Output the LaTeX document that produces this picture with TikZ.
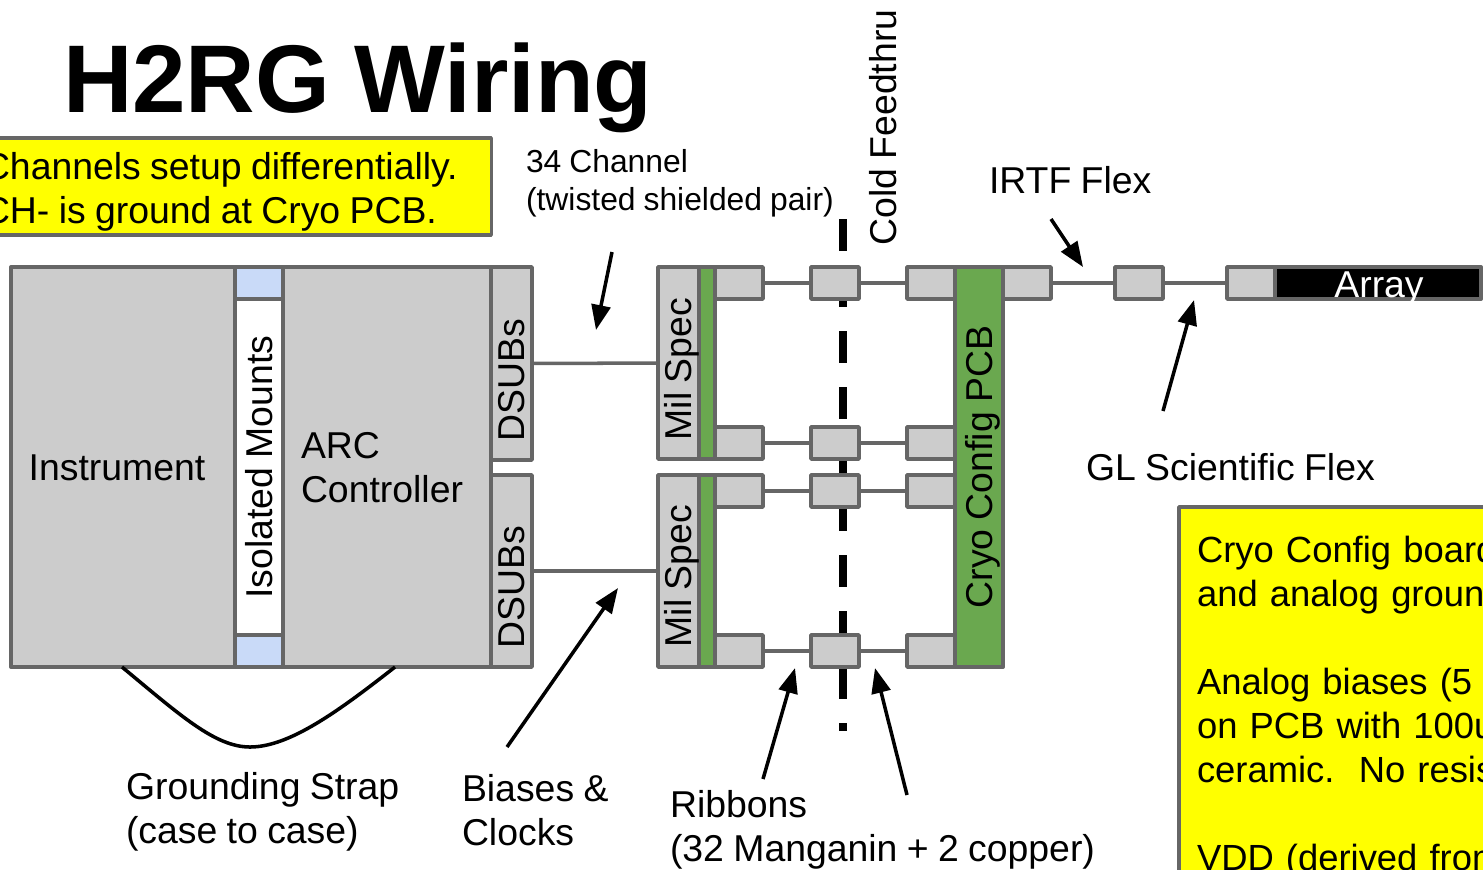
\documentclass[tikz,border=0pt]{standalone}
\usepackage{fontspec}
\setmainfont[WordSpace=0.9]{Liberation Sans}
\usetikzlibrary{arrows.meta}
\tikzset{>={Triangle[length=2.5mm,width=1.9mm]}}
\definecolor{wire_grey}{HTML}{666666}
\definecolor{box_grey}{HTML}{CCCCCC}
\definecolor{pcb_green}{HTML}{6AA84F}
\definecolor{mount_blue}{HTML}{C9DAF8}
\definecolor{note_yellow}{HTML}{FFFF00}
\begin{document}
\begin{tikzpicture}
    [
        x=0.01cm, y=-0.01cm,
        every node/.style={font=\fontsize{10.63}{12.5}\selectfont, inner sep=0pt, outer sep=0pt},
        grey_node/.style={rectangle, draw=wire_grey, fill=box_grey, line width=1pt, line join=round},
        green_node/.style={grey_node, fill=pcb_green},
        plug_node/.style={grey_node, minimum width=0.48cm, minimum height=0.32cm},
        mount_node/.style={grey_node, fill=mount_blue, minimum width=0.48cm, minimum height=0.32cm},
        note_node/.style={grey_node, fill=note_yellow, anchor=north west, align=left, inner xsep=0.18cm},
        text_node/.style={anchor=north west, align=left},
        small_text/.style={text_node, font=\fontsize{9.05}{10.8}\selectfont},
        wire/.style={draw=wire_grey, line width=1pt},
        pointer/.style={->, line width=1pt},
    ]

  \useasboundingbox (0,0) rectangle (1483,869);
  \clip (0,0) rectangle (1483,869);

  \node[text_node, font=\fontsize{27.35}{30}\selectfont\bfseries] (Title) at (63,43) {H2RG Wiring};

  \node[note_node, minimum width=5.28cm, minimum height=0.97cm] (NoteA) at (-37,138) {};
  \node[text_node] (NoteAText) at (-17,152) {Channels setup differentially.\\CH- is ground at Cryo PCB.};
  \node[note_node, text width=4cm, inner ysep=0.295cm, font=\fontsize{10.35}{12.5}\selectfont] (NoteB) at (1179,507)
    {Cryo Config board\\and analog ground\\[12.5pt]Analog biases (5\\on PCB with 100u\\ceramic.\ \ No resis\\[12.5pt]VDD (derived from};

  \draw[line width=2.2pt, draw=black, dash pattern=on 0.32cm off 0.24cm] (843,219) coordinate (FeedTop) -- (843,731) coordinate (FeedEnd);
  \node[rotate=90] (Feed) at (883,127.5) {Cold Feedthru};

  \node[grey_node, minimum width=2.24cm, minimum height=4cm] (Inst) at (123,467) {};
  \node (InstText) at (117,468) {Instrument};
  \node[grey_node, minimum width=2.08cm, minimum height=4cm] (ARC) at (387,467) {};
  \node[text_node] (ArcText) at (301,432) {ARC\\Controller};
  \node[grey_node, fill=white, rotate=90, minimum width=4cm, minimum height=0.48cm] (Iso) at (259,467) {Isolated Mounts};
  \node[mount_node] (MountA) at (259,283) {};
  \node[mount_node] (MountB) at (259,651) {};

  \node[grey_node, minimum width=0.41cm, minimum height=1.93cm] (DsubA) at (511.5,363.5) {};
  \node[grey_node, minimum width=0.41cm, minimum height=1.92cm] (DsubB) at (511.5,571) {};
  \node[grey_node, minimum width=0.41cm, minimum height=1.92cm] (MilA) at (678.5,363) {};
  \node[grey_node, minimum width=0.41cm, minimum height=1.92cm] (MilB) at (678.5,571) {};
  \node[rotate=90] (DsubAText) at (511.5,380) {DSUBs};
  \node[rotate=90] (DsubBText) at (511.5,587) {DSUBs};
  \node[green_node, minimum width=0.16cm, minimum height=1.92cm] (GreenA) at (707,363) {};
  \node[green_node, minimum width=0.16cm, minimum height=1.92cm] (GreenB) at (707,571) {};
  \node[rotate=90] (MilAText) at (682,369) {Mil Spec};
  \node[rotate=90] (MilBText) at (682,576) {Mil Spec};

  \draw[wire] (DsubA) -- (MilA);
  \draw[wire] (DsubB) -- (MilB);

  \foreach \row/\y in {a/283, b/443, c/491, d/651}
  {
    \node[plug_node] (L\row) at (739,\y) {};
    \node[plug_node] (M\row) at (835,\y) {};
    \node[plug_node] (R\row) at (931,\y) {};
    \draw[wire] (L\row) -- (M\row);
    \draw[wire] (M\row) -- (R\row);
  }

  \node[green_node, minimum width=0.48cm, minimum height=4cm] (PCB) at (979,467) {};
  \node[rotate=90] (PCBText) at (983,467) {Cryo Config PCB};

  \node[plug_node] (FlexA) at (1027,283) {};
  \node[plug_node] (FlexB) at (1139,283) {};
  \node[plug_node] (FlexC) at (1251,283) {};
  \node[grey_node, fill=black, minimum width=2.06cm, minimum height=0.32cm] (Array) at (1378,283) {};
  \draw[wire] (FlexA) -- (FlexB);
  \draw[wire] (FlexB) -- (FlexC);
  \begin{scope}
    \clip (1276,267) rectangle (1481,300);
    \node[anchor=base, text=white] (ArrayText) at (1379,297) {Array};
  \end{scope}

  \coordinate (StrapA) at (122,667);
  \coordinate (StrapB) at (250,747);
  \coordinate (StrapC) at (395,667);
  \draw[line width=1pt] (StrapA) .. controls (180,715) and (215,747) .. (StrapB) .. controls (290,747) and (340,710) .. (StrapC);

  \node[small_text] (Twisted) at (526,149) {34 Channel\\(twisted shielded pair)};
  \node[text_node] (Irtf) at (989,166) {IRTF Flex};
  \node[text_node] (GL) at (1086,453.5) {GL Scientific Flex};
  \node[text_node] (Strap) at (126,772.5) {Grounding Strap\\(case to case)};
  \node[text_node] (Biases) at (462,774) {Biases \&\\Clocks};
  \node[text_node] (Ribbons) at (670,790) {Ribbons\\(32 Manganin + 2 copper)};

  \coordinate (T1) at (612,252);
  \coordinate (H1) at (596,330);
  \coordinate (T2) at (1051,219);
  \coordinate (H2) at (1083,267);
  \coordinate (T3) at (1163,411);
  \coordinate (H3) at (1194,300);
  \coordinate (T4) at (507,747);
  \coordinate (H4) at (618,588);
  \coordinate (T5) at (763,779);
  \coordinate (H5) at (795,668);
  \coordinate (T6) at (907,795);
  \coordinate (H6) at (875,668);

  \foreach \i in {1,...,6}
    \draw[pointer] (T\i) -- (H\i);
\end{tikzpicture}
\end{document}
